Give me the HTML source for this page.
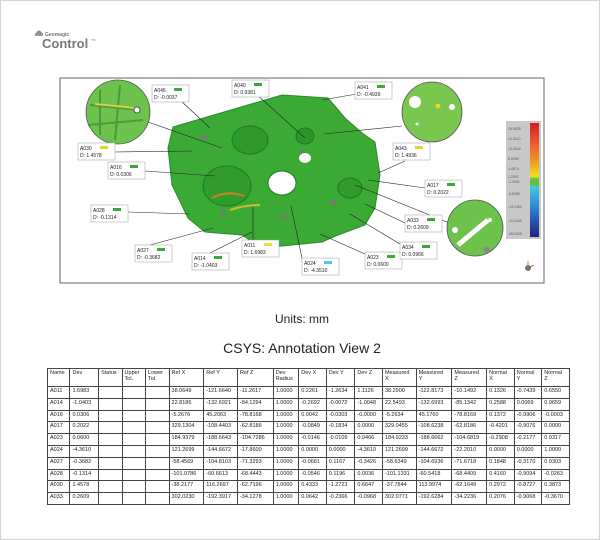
<!DOCTYPE html>
<html><head><meta charset="utf-8"><style>
html,body{margin:0;padding:0;background:#fff}
body{width:600px;height:540px;position:relative;overflow:hidden;font-family:"Liberation Sans",sans-serif}
.frame{position:absolute;left:0;top:0;width:598px;height:538px;border:1px solid #d4d4d4}
table{position:absolute;left:47px;top:368px;width:523px;border-collapse:collapse;font-size:5.5px;color:#222;table-layout:fixed}
td{border:1px solid #444;padding:1px 2px;height:8.8px;vertical-align:top;line-height:6px;white-space:nowrap;overflow:hidden}
tr.h td{height:15px}
</style></head><body>
<div class="frame"></div>
<svg width="600" height="540" style="position:absolute;left:0;top:0" font-family="Liberation Sans, sans-serif">
<path d="M36 33 q3 -5 6 0 z" fill="#888"/><rect x="35" y="33" width="8" height="3" fill="#999"/>
<text x="45" y="36" font-size="5" fill="#777" font-weight="bold">Geomagic</text>
<text x="42" y="48" font-size="13" fill="#777" font-weight="bold">Control</text>
<text x="91" y="41" font-size="3" fill="#777">TM</text>
<rect x="60" y="78" width="484" height="205" fill="#fff" stroke="#666" stroke-width="1"/>
<polygon points="173,127 282,95 328,98 345,118 362,133 375,142 380,175 375,208 365,225 338,235 322,242 262,248 242,235 205,232 188,218 172,185 168,148" fill="#3aaa35" stroke="#2a8a28"/>
<g fill="#777" opacity="0.7"><rect x="200" y="135" width="8" height="5"/><rect x="250" y="125" width="6" height="8"/><rect x="300" y="150" width="5" height="5"/><rect x="330" y="200" width="6" height="6"/><rect x="280" y="215" width="8" height="4"/><rect x="220" y="210" width="5" height="6"/></g>
<ellipse cx="250" cy="140" rx="18" ry="14" fill="#2d9a2a" stroke="#1f7a1f"/>
<ellipse cx="227" cy="186" rx="24" ry="20" fill="#2f9c2c" stroke="#1f7a1f"/>
<ellipse cx="282" cy="183" rx="14" ry="12" fill="#fff" stroke="#1f7a1f"/>
<ellipse cx="305" cy="136" rx="9" ry="8" fill="#2a9628" stroke="#1f7a1f"/>
<ellipse cx="305" cy="158" rx="6" ry="5" fill="#fff"/>
<ellipse cx="350" cy="188" rx="12" ry="10" fill="#2f9c2c" stroke="#1f7a1f"/>
<path d="M212 198 q15 -8 32 -2" stroke="#d08020" stroke-width="2" fill="none"/>
<path d="M230 210 q15 -5 30 -5" stroke="#c8c030" stroke-width="2" fill="none"/>
<circle cx="118" cy="112" r="32" fill="#6cc24a" stroke="#555" stroke-width="0.8"/>
<path d="M90 105 l50 5 M100 90 l0 45 M120 85 l-5 55 M88 125 l55 -5" stroke="#4a9a3a" stroke-width="2"/>
<path d="M95 104 l40 4" stroke="#d8d040" stroke-width="2"/>
<circle cx="137" cy="110" r="3" fill="#fff" stroke="#555"/>
<circle cx="432" cy="112" r="30" fill="#7ac64f" stroke="#555" stroke-width="0.8"/>
<circle cx="415" cy="102" r="6" fill="#fff"/><circle cx="438" cy="106" r="2.5" fill="#f0d020"/><circle cx="452" cy="107" r="3" fill="#fff"/><circle cx="417" cy="124" r="1.5" fill="#fff"/>
<circle cx="475" cy="228" r="28" fill="#6cc24a" stroke="#555" stroke-width="0.8"/>
<path d="M458 245 l30 -25" stroke="#fff" stroke-width="5"/><circle cx="455" cy="230" r="3" fill="#fff"/><circle cx="490" cy="220" r="2" fill="#fff"/><circle cx="487" cy="250" r="3" fill="#888"/>
<g stroke="#222" stroke-width="0.6">
<line x1="148" y1="122" x2="222" y2="148"/>
<line x1="180" y1="100" x2="210" y2="128"/>
<line x1="255" y1="93" x2="305" y2="138"/>
<line x1="374" y1="91" x2="322" y2="100"/>
<line x1="402" y1="126" x2="324" y2="134"/>
<line x1="115" y1="152" x2="192" y2="151"/>
<line x1="145" y1="171" x2="215" y2="176"/>
<line x1="405" y1="161" x2="378" y2="173"/>
<line x1="425" y1="188" x2="368" y2="180"/>
<line x1="128" y1="212" x2="190" y2="214"/>
<line x1="405" y1="223" x2="365" y2="204"/>
<line x1="150" y1="245" x2="213" y2="228"/>
<line x1="210" y1="253" x2="252" y2="232"/>
<line x1="253" y1="240" x2="253" y2="207"/>
<line x1="302" y1="258" x2="291" y2="206"/>
<line x1="365" y1="254" x2="320" y2="234"/>
<line x1="400" y1="244" x2="350" y2="214"/>
<line x1="447" y1="222" x2="355" y2="185"/>
</g>
<g font-size="5" fill="#222">
<g transform="translate(152,85)"><rect width="37" height="17" fill="#fff" stroke="#999" stroke-width="0.5"/><rect x="22" y="3" width="8" height="3" fill="#3aaa35"/><text x="2" y="7">A046</text><text x="2" y="14">D: -0.0037</text></g>
<g transform="translate(232,80)"><rect width="37" height="17" fill="#fff" stroke="#999" stroke-width="0.5"/><rect x="22" y="3" width="8" height="3" fill="#3aaa35"/><text x="2" y="7">A040</text><text x="2" y="14">D: 0.9381</text></g>
<g transform="translate(355,82)"><rect width="37" height="17" fill="#fff" stroke="#999" stroke-width="0.5"/><rect x="22" y="3" width="8" height="3" fill="#3aaa35"/><text x="2" y="7">A041</text><text x="2" y="14">D: -0.4939</text></g>
<g transform="translate(78,143)"><rect width="37" height="17" fill="#fff" stroke="#999" stroke-width="0.5"/><rect x="22" y="3" width="8" height="3" fill="#d8d830"/><text x="2" y="7">A030</text><text x="2" y="14">D: 1.4578</text></g>
<g transform="translate(108,162)"><rect width="37" height="17" fill="#fff" stroke="#999" stroke-width="0.5"/><rect x="22" y="3" width="8" height="3" fill="#3aaa35"/><text x="2" y="7">A016</text><text x="2" y="14">D: 0.0306</text></g>
<g transform="translate(393,143)"><rect width="37" height="17" fill="#fff" stroke="#999" stroke-width="0.5"/><rect x="22" y="3" width="8" height="3" fill="#d8d830"/><text x="2" y="7">A043</text><text x="2" y="14">D: 1.4936</text></g>
<g transform="translate(425,180)"><rect width="37" height="17" fill="#fff" stroke="#999" stroke-width="0.5"/><rect x="22" y="3" width="8" height="3" fill="#3aaa35"/><text x="2" y="7">A017</text><text x="2" y="14">D: 0.2022</text></g>
<g transform="translate(91,205)"><rect width="37" height="17" fill="#fff" stroke="#999" stroke-width="0.5"/><rect x="22" y="3" width="8" height="3" fill="#3aaa35"/><text x="2" y="7">A028</text><text x="2" y="14">D: -0.1314</text></g>
<g transform="translate(405,215)"><rect width="37" height="17" fill="#fff" stroke="#999" stroke-width="0.5"/><rect x="22" y="3" width="8" height="3" fill="#3aaa35"/><text x="2" y="7">A033</text><text x="2" y="14">D: 0.2609</text></g>
<g transform="translate(135,245)"><rect width="37" height="17" fill="#fff" stroke="#999" stroke-width="0.5"/><rect x="22" y="3" width="8" height="3" fill="#3aaa35"/><text x="2" y="7">A027</text><text x="2" y="14">D: -0.3682</text></g>
<g transform="translate(192,253)"><rect width="37" height="17" fill="#fff" stroke="#999" stroke-width="0.5"/><rect x="22" y="3" width="8" height="3" fill="#3aaa35"/><text x="2" y="7">A014</text><text x="2" y="14">D: -1.0403</text></g>
<g transform="translate(242,240)"><rect width="37" height="17" fill="#fff" stroke="#999" stroke-width="0.5"/><rect x="22" y="3" width="8" height="3" fill="#e8e040"/><text x="2" y="7">A011</text><text x="2" y="14">D: 1.6983</text></g>
<g transform="translate(302,258)"><rect width="37" height="17" fill="#fff" stroke="#999" stroke-width="0.5"/><rect x="22" y="3" width="8" height="3" fill="#50c8e0"/><text x="2" y="7">A024</text><text x="2" y="14">D: -4.3510</text></g>
<g transform="translate(365,252)"><rect width="37" height="17" fill="#fff" stroke="#999" stroke-width="0.5"/><rect x="22" y="3" width="8" height="3" fill="#3aaa35"/><text x="2" y="7">A023</text><text x="2" y="14">D: 0.0600</text></g>
<g transform="translate(400,242)"><rect width="37" height="17" fill="#fff" stroke="#999" stroke-width="0.5"/><rect x="22" y="3" width="8" height="3" fill="#3aaa35"/><text x="2" y="7">A034</text><text x="2" y="14">D: 0.0966</text></g>
</g>
<rect x="506" y="121" width="35" height="118" fill="#c8c8c8"/>
<defs><linearGradient id="cb" x1="0" y1="0" x2="0" y2="1">
<stop offset="0" stop-color="#d02020"/><stop offset="0.2" stop-color="#f06030"/><stop offset="0.35" stop-color="#f0a020"/><stop offset="0.47" stop-color="#f0e020"/><stop offset="0.49" stop-color="#60c040"/><stop offset="0.54" stop-color="#60c040"/><stop offset="0.56" stop-color="#40c8e0"/><stop offset="0.75" stop-color="#3080d0"/><stop offset="1" stop-color="#202080"/></linearGradient></defs>
<rect x="530" y="123" width="9" height="114" fill="url(#cb)"/>
<g font-size="3.5" fill="#555"><text x="508" y="130">25.0025</text><text x="508" y="140">19.0110</text><text x="508" y="150">13.2440</text><text x="508" y="160">8.5159</text><text x="508" y="170">4.4874</text><text x="508" y="178">1.2901</text><text x="508" y="183">-1.2901</text><text x="508" y="195">-6.6159</text><text x="508" y="208">-13.1450</text><text x="508" y="222">-19.2440</text><text x="508" y="235">-25.0025</text></g>
<circle cx="528" cy="268" r="3" fill="#777"/><line x1="528" y1="268" x2="534" y2="265" stroke="#c33" stroke-width="0.8"/><line x1="528" y1="268" x2="528" y2="261" stroke="#3a3" stroke-width="0.8"/>
<text x="302" y="323" font-size="12" fill="#222" text-anchor="middle">Units: mm</text>
<text x="302" y="353" font-size="14" fill="#222" text-anchor="middle">CSYS: Annotation View 2</text>
</svg>
<table>
<colgroup><col style="width:22px"><col style="width:28px"><col style="width:23px"><col style="width:23px"><col style="width:23px"><col style="width:34px"><col style="width:33px"><col style="width:35px"><col style="width:25px"><col style="width:27px"><col style="width:28px"><col style="width:27px"><col style="width:33px"><col style="width:35px"><col style="width:34px"><col style="width:27px"><col style="width:27px"><col style="width:27px"></colgroup>
<tr class="h"><td>Name</td><td>Dev</td><td>Status</td><td>Upper<br>Tol.</td><td>Lower<br>Tol.</td><td>Ref X</td><td>Ref Y</td><td>Ref Z</td><td>Dev<br>Radius</td><td>Dev X</td><td>Dev Y</td><td>Dev Z</td><td>Measured<br>X</td><td>Measured<br>Y</td><td>Measured<br>Z</td><td>Normal<br>X</td><td>Normal<br>Y</td><td>Normal<br>Z</td></tr>
<tr><td>A011</td><td>1.6983</td><td></td><td></td><td></td><td>38.0649</td><td>-121.6640</td><td>-11.2617</td><td>1.0000</td><td>0.2261</td><td>-1.2634</td><td>1.1126</td><td>38.2900</td><td>-122.8173</td><td>-10.1492</td><td>0.1326</td><td>-0.7439</td><td>0.6550</td></tr>
<tr><td>A014</td><td>-1.0403</td><td></td><td></td><td></td><td>22.8186</td><td>-132.6921</td><td>-84.1294</td><td>1.0000</td><td>-0.2692</td><td>-0.0072</td><td>-1.0048</td><td>22.5493</td><td>-132.6993</td><td>-85.1342</td><td>0.2588</td><td>0.0069</td><td>0.9659</td></tr>
<tr><td>A016</td><td>0.0306</td><td></td><td></td><td></td><td>-5.2676</td><td>45.2063</td><td>-78.8168</td><td>1.0000</td><td>0.0042</td><td>-0.0303</td><td>-0.0000</td><td>-5.2634</td><td>45.1760</td><td>-78.8169</td><td>0.1372</td><td>-0.9906</td><td>-0.0003</td></tr>
<tr><td>A017</td><td>0.2022</td><td></td><td></td><td></td><td>329.1304</td><td>-108.4403</td><td>-62.8186</td><td>1.0000</td><td>-0.0849</td><td>-0.1834</td><td>0.0000</td><td>329.0455</td><td>-108.6238</td><td>-62.8186</td><td>-0.4201</td><td>-0.9076</td><td>0.0000</td></tr>
<tr><td>A023</td><td>0.0600</td><td></td><td></td><td></td><td>184.9379</td><td>-188.6643</td><td>-104.7286</td><td>1.0000</td><td>-0.0146</td><td>-0.0109</td><td>0.0466</td><td>184.9233</td><td>-188.6662</td><td>-104.6819</td><td>-0.2908</td><td>-0.2177</td><td>0.9317</td></tr>
<tr><td>A024</td><td>-4.3610</td><td></td><td></td><td></td><td>121.2699</td><td>-144.6672</td><td>-17.8600</td><td>1.0000</td><td>0.0000</td><td>0.0000</td><td>-4.3610</td><td>121.2699</td><td>-144.6672</td><td>-22.2010</td><td>0.0000</td><td>0.0000</td><td>1.0000</td></tr>
<tr><td>A027</td><td>-0.3682</td><td></td><td></td><td></td><td>-58.4569</td><td>-104.8103</td><td>-71.3293</td><td>1.0000</td><td>-0.0681</td><td>0.1167</td><td>-0.3426</td><td>-58.6349</td><td>-104.6936</td><td>-71.6718</td><td>0.1848</td><td>-0.3170</td><td>0.9303</td></tr>
<tr><td>A028</td><td>-0.1314</td><td></td><td></td><td></td><td>-101.0786</td><td>-60.6613</td><td>-68.4443</td><td>1.0000</td><td>-0.0546</td><td>0.1196</td><td>0.0036</td><td>-101.1331</td><td>-60.5418</td><td>-68.4409</td><td>0.4160</td><td>-0.9094</td><td>-0.0263</td></tr>
<tr><td>A030</td><td>1.4578</td><td></td><td></td><td></td><td>-38.2177</td><td>116.2697</td><td>-62.7196</td><td>1.0000</td><td>0.4333</td><td>-1.2723</td><td>0.6647</td><td>-37.7844</td><td>113.9974</td><td>-62.1649</td><td>0.2972</td><td>-0.8727</td><td>0.3873</td></tr>
<tr><td>A033</td><td>0.2609</td><td></td><td></td><td></td><td>302.0230</td><td>-192.3917</td><td>-34.1278</td><td>1.0000</td><td>0.0642</td><td>-0.2366</td><td>-0.0968</td><td>302.0771</td><td>-192.6284</td><td>-34.2236</td><td>0.2076</td><td>-0.9068</td><td>-0.3670</td></tr>
</table>
</body></html>
